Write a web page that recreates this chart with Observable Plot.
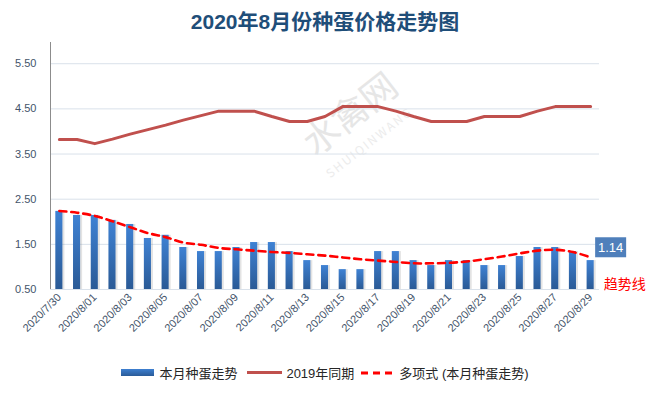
<!DOCTYPE html>
<html>
<head>
<meta charset="utf-8">
<script src="https://cdn.jsdelivr.net/npm/d3@7"></script>
<script src="https://cdn.jsdelivr.net/npm/@observablehq/plot@0.6"></script>
<style>
  html, body { margin: 0; padding: 0; background: #fff; }
  #wrap { position: relative; width: 650px; height: 394px; overflow: hidden;
          font-family: "Liberation Sans", "Noto Sans CJK SC", sans-serif; }
  #title { position: absolute; left: 0; top: 8px; width: 650px; text-align: center;
           font-size: 21px; line-height: 28px; font-weight: bold; color: #1f4e79;
           font-family: "Liberation Sans", "Noto Sans CJK SC", sans-serif; }
  #chart { position: absolute; left: 0; top: 0; }
  #legend { position: absolute; left: 0; top: 363px; width: 650px; display: flex;
            justify-content: center; align-items: center; font-size: 13px; color: #262626; }
  .sw { display: inline-block; }
</style>
</head>
<body>
<div id="wrap">
  <div id="chart"></div>
  <div id="title">2020年8月份种蛋价格走势图</div>
  <div id="legend">
    <span class="sw" style="width:33px;height:7px;background:linear-gradient(#3d7fd0,#2a5b98);margin-right:5px"></span>
    <span style="margin-right:10px">本月种蛋走势</span>
    <span class="sw" style="width:35px;height:3px;background:#c0504d;margin-right:4px"></span>
    <span style="margin-right:7px">2019年同期</span>
    <svg width="34" height="6" style="margin-right:4px"><line x1="0" y1="3" x2="34" y2="3" stroke="#ff0000" stroke-width="3" stroke-dasharray="7,5"/></svg>
    <span>多项式 (本月种蛋走势)</span>
  </div>
</div>
<script>
const dates = ["2020/7/30","2020/7/31","2020/8/01","2020/8/02","2020/8/03","2020/8/04","2020/8/05","2020/8/06",
  "2020/8/07","2020/8/08","2020/8/09","2020/8/10","2020/8/11","2020/8/12","2020/8/13","2020/8/14","2020/8/15",
  "2020/8/16","2020/8/17","2020/8/18","2020/8/19","2020/8/20","2020/8/21","2020/8/22","2020/8/23","2020/8/24",
  "2020/8/25","2020/8/26","2020/8/27","2020/8/28","2020/8/29"];
const prices2020 = [2.23,2.14,2.14,2.03,1.94,1.63,1.70,1.43,1.34,1.34,1.43,1.54,1.54,1.34,1.14,1.03,
  0.94,0.94,1.34,1.34,1.14,1.03,1.14,1.14,1.03,1.03,1.23,1.43,1.43,1.34,1.14];
const prices2019 = [3.82,3.82,3.73,3.83,3.94,4.04,4.14,4.25,4.35,4.45,4.45,4.45,4.33,4.22,4.22,4.33,
  4.55,4.55,4.55,4.45,4.33,4.22,4.22,4.22,4.33,4.33,4.33,4.45,4.55,4.55,4.55];
const trend = [2.24,2.20,2.13,2.01,1.88,1.75,1.66,1.54,1.49,1.42,1.39,1.36,1.33,1.31,1.28,1.25,
  1.21,1.17,1.14,1.11,1.08,1.08,1.09,1.12,1.17,1.23,1.30,1.36,1.38,1.33,1.21];
const yTicks = [0.5,1.5,2.5,3.5,4.5,5.5];
const xLabels = dates.filter((d, i) => i % 2 === 0);

const data = dates.map((d, i) => ({date: d, v: prices2020[i], v19: prices2019[i], t: trend[i]}));
const last = data[data.length - 1];

const axisLine = (index, scales, values, dim) => {
  const l = document.createElementNS("http://www.w3.org/2000/svg", "line");
  l.setAttribute("x1", dim.marginLeft + 0.5); l.setAttribute("x2", dim.marginLeft + 0.5);
  l.setAttribute("y1", dim.marginTop); l.setAttribute("y2", dim.height - dim.marginBottom);
  l.setAttribute("stroke", "#8c8c8c"); l.setAttribute("stroke-width", 1);
  return l;
};

const chart = Plot.plot({
  width: 650, height: 350,
  marginLeft: 50, marginRight: 51, marginTop: 42, marginBottom: 61,
  style: {fontFamily: "'Liberation Sans', 'Noto Sans CJK SC', sans-serif", fontSize: "11px", color: "#44546a", background: "transparent", overflow: "visible"},
  x: {domain: dates, round: false, paddingInner: 0.6, paddingOuter: 0.3, tickRotate: -45, ticks: xLabels, tickSize: 0, tickPadding: 6, label: null},
  y: {domain: [0.5, 5.97], ticks: yTicks, tickFormat: d => d.toFixed(2), tickSize: 0, tickPadding: 14, label: null},
  marks: [
    Plot.ruleY(yTicks, {stroke: "#d9e1ea", strokeWidth: 1}),
    Plot.barY(data, {x: "date", y1: 0.5, y2: "v", fill: "#7f7f7f", fillOpacity: 0.22, dx: 2}),
    Plot.barY(data, {x: "date", y1: 0.5, y2: "v", fill: "url(#barGrad)"}),
    Plot.lineY(data, {x: "date", y: "v19", stroke: "#c0504d", strokeWidth: 3}),
    Plot.line(data, {x: "date", y: "t", stroke: "#ff0000", strokeWidth: 2.6, strokeDasharray: "7,5", curve: "catmull-rom"}),
    axisLine,
    Plot.text([last], {x: "date", y: "v", text: d => d.v.toFixed(2), dx: 20, dy: -13, fill: "white", fontSize: 13, ariaLabel: () => "last-label"}),
    Plot.text([last], {x: "date", y: () => 0.5, text: () => "趋势线", dx: 34, dy: -5, fill: "#ff0000", fontSize: 14, fontFamily: "'Noto Sans CJK SC', sans-serif"})
  ]
});

document.getElementById("chart").appendChild(chart);

const svg = d3.select(chart);
const defs = svg.insert("defs", ":first-child");
const grad = defs.append("linearGradient").attr("id", "barGrad").attr("x1", 0).attr("y1", 0).attr("x2", 0).attr("y2", 1);
grad.append("stop").attr("offset", "0%").attr("stop-color", "#3f82d4");
grad.append("stop").attr("offset", "100%").attr("stop-color", "#2a5a96");

// watermark
const wm = svg.insert("g", "g").attr("fill", "#e6e6e6").attr("font-family", "'Noto Sans CJK SC', sans-serif");
wm.append("text").attr("transform", "translate(358,124) rotate(-38)").attr("text-anchor", "middle")
  .attr("font-size", 36).text("水禽网");
wm.append("text").attr("transform", "translate(372,146) rotate(-38)").attr("text-anchor", "middle")
  .attr("font-size", 12).attr("letter-spacing", 2).attr("fill", "#ececec").text("SHUIQINWANG");

// label box behind the last value
let t = chart.querySelector('text[aria-label="last-label"]');
if (!t) {
  const texts = Array.from(chart.querySelectorAll("text")).filter(e => e.textContent === last.v.toFixed(2));
  t = texts[texts.length - 1];
}
if (t) {
  const sb = chart.getBoundingClientRect();
  const b = t.getBoundingClientRect();
  const cx = b.x - sb.x + b.width / 2, cy = b.y - sb.y + b.height / 2;
  const r = document.createElementNS("http://www.w3.org/2000/svg", "rect");
  r.setAttribute("x", cx - 15.5); r.setAttribute("y", cy - 10);
  r.setAttribute("width", 31); r.setAttribute("height", 20);
  r.setAttribute("fill", "#4f7fbb");
  const g = t.closest("g") || t.parentNode;
  g.parentNode.insertBefore(r, g);
}
</script>
</body>
</html>
